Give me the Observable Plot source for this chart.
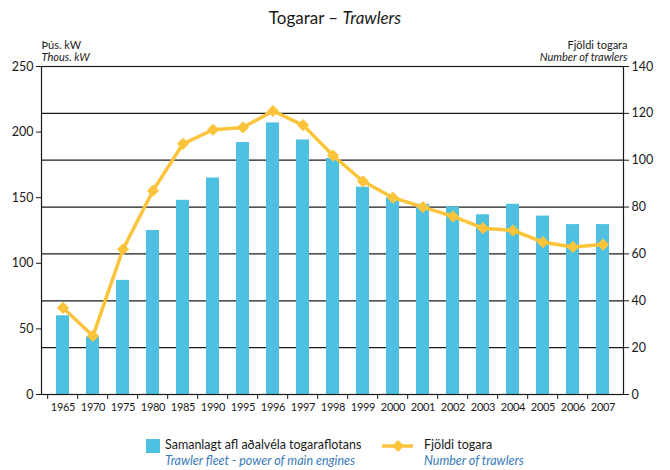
<!DOCTYPE html>
<html>
<head>
<meta charset="utf-8">
<script src="https://cdn.jsdelivr.net/npm/d3@7"></script>
<script src="https://cdn.jsdelivr.net/npm/@observablehq/plot@0.6"></script>
<style>
  html, body { margin: 0; padding: 0; background: #fff; }
  #wrap { position: relative; width: 670px; height: 470px; font-family: Lato, "Open Sans", sans-serif; color: #1a1a1a; }
  #title { position: absolute; top: 0; left: 0; width: 670px; height: 36px; line-height: 36px; text-align: center; font-size: 17px; }
  #chart { position: absolute; top: 36px; left: 0; }
  .leg { position: absolute; font-size: 12.5px; line-height: 16px; white-space: nowrap; }
  .leg .en { font-style: italic; color: #3a7ab8; }
  .xlab text { letter-spacing: -0.3px; }
</style>
</head>
<body>
<div id="wrap">
  <div id="title">Togarar – <i>Trawlers</i></div>
  <div id="chart"></div>
  <svg style="position:absolute;left:0;top:0" width="670" height="470">
    <rect x="146" y="439" width="14" height="14" fill="#4fc1e0"></rect>
    <line x1="382" y1="446" x2="413" y2="446" stroke="#fbc43b" stroke-width="3.5"></line>
    <path d="M398,440 L404,446 L398,452 L392,446 Z" fill="#fbc43b"></path>
  </svg>
  <div class="leg" style="left:165px; top:437px;">Samanlagt afl aðalvéla togaraflotans<br><span class="en">Trawler fleet - power of main engines</span></div>
  <div class="leg" style="left:424px; top:437px;">Fjöldi togara<br><span class="en">Number of trawlers</span></div>
</div>
<script>
const years = ["1965","1970","1975","1980","1985","1990","1995","1996","1997","1998","1999","2000","2001","2002","2003","2004","2005","2006","2007"];
const power = [60,44,87,125,148,165,192,207,194,180,158,150,145,143,137,145,136,129.5,129.5];
const trawlers = [37,25,62,87,107,113,114,121,115,102,91,84,80,76,71,70,65,63,64];
const leftTicks = [0,50,100,150,200,250];
const rightTicks = [0,20,40,60,80,100,120,140];

const k = 250 / 140;
const data = years.map((y, i) => ({year: y, power: power[i], trawlers: trawlers[i]}));

const W = 670, mL = 41, mR = 47;
const step = (W - mL - mR) / years.length;
const ink = "#1a1a1a";

const chart = Plot.plot({
  width: W,
  height: 383,
  marginTop: 30,
  marginLeft: mL,
  marginRight: mR,
  marginBottom: 25,
  style: {fontFamily: "Lato, 'Open Sans', sans-serif", fontSize: "12px", color: ink, background: "transparent", overflow: "visible"},
  x: {type: "band", domain: years, paddingInner: 0.57, paddingOuter: 0.285, axis: null},
  y: {domain: [0, 250], axis: null},
  marks: [
    Plot.ruleY(rightTicks.slice(1, -1).map(v => v * k), {stroke: ink, strokeWidth: 1.2}),
    Plot.barY(data, {x: "year", y: "power", fill: "#4fc1e0"}),
    Plot.frame({stroke: ink, strokeWidth: 1.2}),
    Plot.line(data, {x: "year", y: d => d.trawlers * k, stroke: "#fbc43b", strokeWidth: 3.5}),
    Plot.dot(data, {x: "year", y: d => d.trawlers * k, symbol: "diamond2", r: 5.5, fill: "#fbc43b"}),
    Plot.axisY(leftTicks, {anchor: "left", tickSize: 5, tickPadding: 3, label: null, fontSize: 12.5, stroke: ink}),
    Plot.axisY(rightTicks.map(v => v * k), {anchor: "right", tickSize: 5, tickPadding: 3, label: null, fontSize: 12.5, tickFormat: d => Math.round(d / k), stroke: ink}),
    Plot.axisX({tickSize: 0, tickPadding: 9, label: null, fontSize: 11, className: "xlab"}),
    Plot.axisX({tickSize: 5, tickFormat: () => "", dx: -step / 2, label: null, stroke: ink}),
    Plot.text(["Þús. kW"], {frameAnchor: "top-left", dy: -21, lineAnchor: "middle", textAnchor: "start", fontSize: 11}),
    Plot.text(["Thous. kW"], {frameAnchor: "top-left", dy: -9, lineAnchor: "middle", textAnchor: "start", fontSize: 11, fontStyle: "italic"}),
    Plot.text(["Fjöldi togara"], {frameAnchor: "top-right", dx: 4, dy: -21, lineAnchor: "middle", textAnchor: "end", fontSize: 11}),
    Plot.text(["Number of trawlers"], {frameAnchor: "top-right", dx: 4, dy: -9, lineAnchor: "middle", textAnchor: "end", fontSize: 11, fontStyle: "italic"})
  ]
});
document.getElementById("chart").appendChild(chart);
</script>
</body>
</html>
